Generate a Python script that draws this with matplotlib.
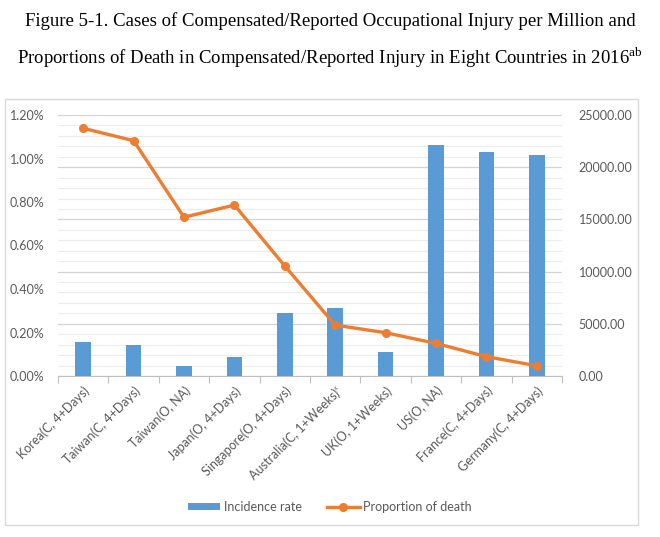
import numpy as np
import matplotlib
matplotlib.use('Agg')
import matplotlib.pyplot as plt
from matplotlib.patches import Rectangle
from matplotlib.ticker import FuncFormatter, MultipleLocator, FixedLocator

# values
countries = ['Korea(C, 4+Days)', 'Taiwan(C, 4+Days)', 'Taiwan(O, NA)',
             'Japan(O, 4+Days)', 'Singapore(O, 4+Days)',
             'Australia(C, 1+Weeks)\u1d9c', 'UK(O, 1+Weeks)', 'US(O, NA)',
             'France(C, 4+Days)', 'Germany(C, 4+Days)']
incidence = [3210, 2960, 950, 1780, 6010, 6520, 2290, 22110, 21500, 21160]
death_prop = [1.139, 1.082, 0.730, 0.786, 0.506, 0.234, 0.199, 0.150, 0.089, 0.047]

BLUE = '#5B9BD5'
ORANGE = '#ED7D31'
GREY = '#595959'

plt.rcParams['font.family'] = ['Lato', 'DejaVu Sans']
plt.rcParams['mathtext.fontset'] = 'custom'
plt.rcParams['mathtext.rm'] = 'Liberation Serif'

fig = plt.figure(figsize=(6.6, 5.37), dpi=100)

# title, two lines
fig.text(0.5, 1 - 21 / 537., 'Figure 5-1. Cases of Compensated/Reported Occupational Injury per Million and',
         ha='center', va='center', family='Liberation Serif', fontsize=13.5)
fig.text(0.5, 1 - 58 / 537., r'Proportions of Death in Compensated/Reported Injury in Eight Countries in 2016$^{\mathrm{ab}}$',
         ha='center', va='center', family='Liberation Serif', fontsize=13.5)

# chart area border
fig.patches.append(Rectangle((5 / 660., 1 - 525 / 537.), 633 / 660., 426 / 537.,
                             transform=fig.transFigure, fill=False,
                             edgecolor='#d9d9d9', linewidth=1.0))

ax = fig.add_axes([58 / 660., 1 - 376 / 537., 504 / 660., 261 / 537.])
x = np.arange(len(countries))

# bars on the right-hand axis
ax.bar(x, incidence, width=0.31, color=BLUE, zorder=3, label='Incidence rate')

# line on the left-hand axis
ax2 = ax.twinx()
ax2.plot(x, death_prop, color=ORANGE, linewidth=2.4, marker='o', markersize=5.5,
         label='Proportion of death', zorder=4)

ax.set_ylim(0, 25000)
ax.set_xlim(-0.5, len(countries) - 0.5)
ax.yaxis.tick_right()
ax.yaxis.set_label_position('right')
ax.yaxis.set_major_locator(MultipleLocator(5000))
ax.yaxis.set_minor_locator(MultipleLocator(1000))
ax.yaxis.set_major_formatter(FuncFormatter(lambda v, p: '%.2f' % v))
ax.grid(True, which='major', axis='y', color='#d4d4d4', linewidth=0.9, zorder=0)
ax.grid(True, which='minor', axis='y', color='#ececec', linewidth=0.8, zorder=0)
ax.tick_params(axis='y', which='both', left=False, right=False, labelleft=False,
               labelright=True, length=0, labelsize=9, labelcolor=GREY, pad=12)

# x axis: tick marks between categories, labels at the centres
ax.xaxis.set_major_locator(FixedLocator(np.arange(-0.5, len(countries), 1.0)))
ax.xaxis.set_major_formatter(FuncFormatter(lambda v, p: ''))
ax.xaxis.set_minor_locator(FixedLocator(x))
ax.set_xticklabels(countries, minor=True, rotation=45, ha='right',
                   rotation_mode='anchor')
ax.tick_params(axis='x', which='major', length=5, color='#bfbfbf')
ax.tick_params(axis='x', which='minor', length=0, labelsize=9, labelcolor=GREY, pad=6)
for s in ['top', 'left', 'right']:
    ax.spines[s].set_visible(False)
ax.spines['bottom'].set_color('#bfbfbf')

ax2.set_ylim(0, 1.2)
ax2.set_xlim(-0.5, len(countries) - 0.5)
ax2.yaxis.tick_left()
ax2.yaxis.set_major_locator(MultipleLocator(0.2))
ax2.yaxis.set_major_formatter(FuncFormatter(lambda v, p: '%.2f%%' % v))
ax2.tick_params(axis='y', length=0, labelsize=9, labelcolor=GREY, pad=10)
for s in ax2.spines.values():
    s.set_visible(False)

h1, l1 = ax.get_legend_handles_labels()
h2, l2 = ax2.get_legend_handles_labels()
fig.legend(h1 + h2, l1 + l2, loc='center', bbox_to_anchor=(0.5, 1 - 507 / 537.),
           ncol=2, frameon=False, fontsize=9, labelcolor=GREY,
           handlelength=2.6, handleheight=0.5, handletextpad=0.3, columnspacing=2.0)

fig.savefig('out.png', dpi=100)
